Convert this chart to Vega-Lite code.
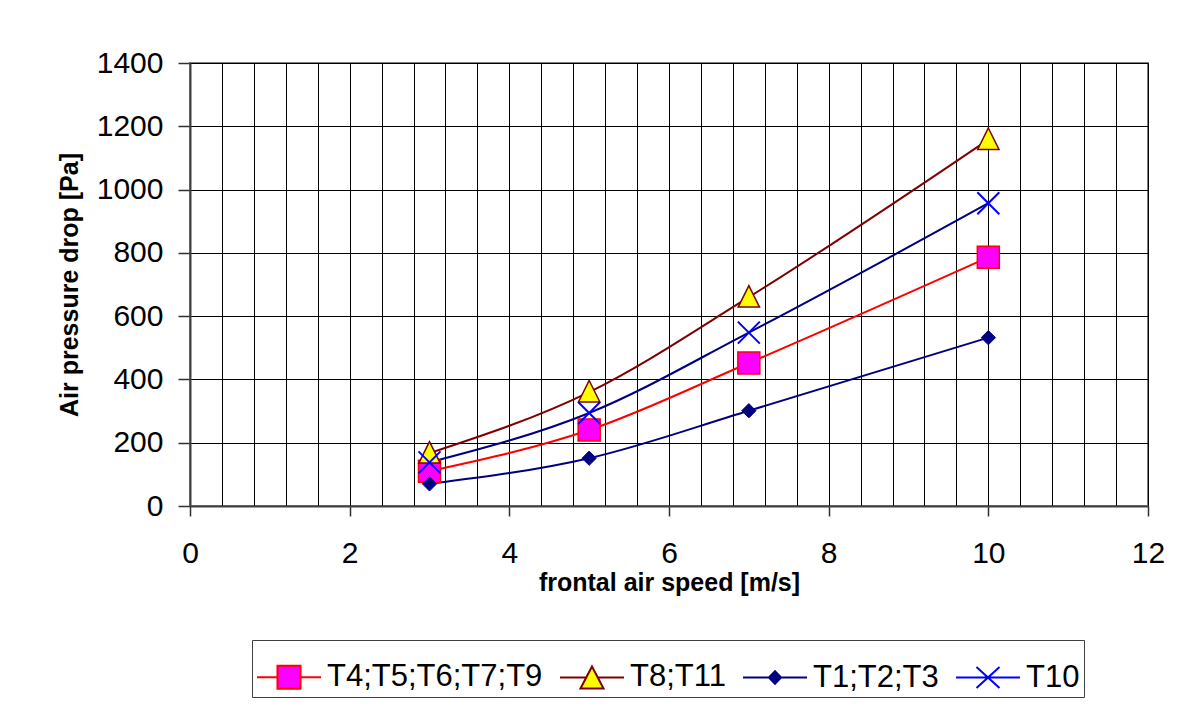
{
  "$schema": "https://vega.github.io/schema/vega-lite/v6.json",
  "width": 958,
  "height": 443,
  "autosize": {"type": "none"},
  "padding": {"left": 190, "top": 63, "right": 37, "bottom": 215},
  "background": "white",
  "config": {
    "font": "Liberation Sans",
    "view": {"stroke": "#808080", "strokeWidth": 2}
  },
  "data": {
    "values": [
      {"series": "T4;T5;T6;T7;T9", "speed": 3, "dp": 110},
      {"series": "T4;T5;T6;T7;T9", "speed": 5, "dp": 240},
      {"series": "T4;T5;T6;T7;T9", "speed": 7, "dp": 452},
      {"series": "T4;T5;T6;T7;T9", "speed": 10, "dp": 786},
      {"series": "T8;T11", "speed": 3, "dp": 167},
      {"series": "T8;T11", "speed": 5, "dp": 360},
      {"series": "T8;T11", "speed": 7, "dp": 660},
      {"series": "T8;T11", "speed": 10, "dp": 1158},
      {"series": "T1;T2;T3", "speed": 3, "dp": 70},
      {"series": "T1;T2;T3", "speed": 5, "dp": 151},
      {"series": "T1;T2;T3", "speed": 7, "dp": 301},
      {"series": "T1;T2;T3", "speed": 10, "dp": 532},
      {"series": "T10", "speed": 3, "dp": 138},
      {"series": "T10", "speed": 5, "dp": 294},
      {"series": "T10", "speed": 7, "dp": 548},
      {"series": "T10", "speed": 10, "dp": 957}
    ]
  },
  "encoding": {
    "x": {
      "field": "speed",
      "type": "quantitative",
      "scale": {"domain": [0, 12], "nice": false, "zero": false},
      "axis": {
        "values": [0, 0.4, 0.8, 1.2, 1.6, 2, 2.4, 2.8, 3.2, 3.6, 4, 4.4, 4.8, 5.2, 5.6, 6, 6.4, 6.8, 7.2, 7.6, 8, 8.4, 8.8, 9.2, 9.6, 10, 10.4, 10.8, 11.2, 11.6, 12],
        "grid": true,
        "gridColor": "#000000",
        "gridWidth": 1,
        "tickSize": 10,
        "tickColor": "#303030",
        "tickWidth": 1.5,
        "tickOpacity": {"condition": {"test": "datum.value % 2 == 0", "value": 1}, "value": 0},
        "labelExpr": "datum.value % 2 == 0 ? format(datum.value, 'd') : ''",
        "labelFontSize": 30,
        "labelPadding": 22,
        "labelColor": "#000000",
        "labelOverlap": false,
        "labelFlush": false,
        "domainColor": "#404040",
        "domainWidth": 2,
        "title": "frontal air speed [m/s]",
        "titleFontSize": 25,
        "titleFontWeight": "bold",
        "titleColor": "#000000",
        "titlePadding": 2
      }
    },
    "y": {
      "field": "dp",
      "type": "quantitative",
      "scale": {"domain": [0, 1400], "nice": false},
      "axis": {
        "values": [0, 200, 400, 600, 800, 1000, 1200, 1400],
        "format": "d",
        "grid": true,
        "gridColor": "#000000",
        "gridWidth": 1,
        "tickSize": 12,
        "tickColor": "#303030",
        "tickWidth": 1.5,
        "labelFontSize": 30,
        "labelPadding": 15,
        "labelColor": "#000000",
        "labelFlush": false,
        "domainColor": "#404040",
        "domainWidth": 2,
        "title": "Air pressure drop [Pa]",
        "titleFontSize": 25,
        "titleFontWeight": "bold",
        "titleColor": "#000000",
        "titlePadding": 14
      }
    }
  },
  "layer": [
    {
      "transform": [{"filter": "datum.series == 'T4;T5;T6;T7;T9'"}],
      "mark": {"type": "line", "interpolate": "monotone", "strokeWidth": 2, "color": "#FF0000"},
      "encoding": {}
    },
    {
      "transform": [{"filter": "datum.series == 'T8;T11'"}],
      "mark": {"type": "line", "interpolate": "monotone", "strokeWidth": 2, "color": "#800000"},
      "encoding": {}
    },
    {
      "transform": [{"filter": "datum.series == 'T1;T2;T3'"}],
      "mark": {"type": "line", "interpolate": "monotone", "strokeWidth": 2, "color": "#000080"},
      "encoding": {}
    },
    {
      "transform": [{"filter": "datum.series == 'T10'"}],
      "mark": {"type": "line", "interpolate": "monotone", "strokeWidth": 2, "color": "#000080"},
      "encoding": {}
    },
    {
      "mark": {"type": "point", "size": 4, "opacity": 1, "strokeWidth": 1},
      "encoding": {
        "shape": {
          "field": "series",
          "type": "nominal",
          "scale": {
            "domain": ["T4;T5;T6;T7;T9", "T8;T11", "T1;T2;T3", "T10"],
            "range": [
              "M-1,0H-0.36M0.36,0H1M-0.36,-0.36H0.36V0.36H-0.36Z",
              "M-1,0H-0.18M0.18,0H1M0,-0.34L0.36,0.35H-0.36Z",
              "M-1,0H1M0,-0.2L0.19,0L0,0.2L-0.19,0Z",
              "M-1,0H1M-0.36,-0.33L0.36,0.33M-0.36,0.33L0.36,-0.33"
            ]
          },
          "legend": {"orient": "none", "legendX": 62, "legendY": 577, "direction": "horizontal", "title": null, "symbolSize": 4096, "symbolStrokeWidth": 2, "labelFontSize": 31, "labelColor": "#000000", "labelOffset": 5, "labelLimit": 500, "columnPadding": 13, "padding": 4, "strokeColor": "#404040", "fillColor": "#FFFFFF"}
        },
        "fill": {
          "field": "series",
          "type": "nominal",
          "scale": {"domain": ["T4;T5;T6;T7;T9", "T8;T11", "T1;T2;T3", "T10"], "range": ["#FF00FF", "#FFFF00", "#000080", "#0000FF"]},
          "legend": null
        },
        "stroke": {
          "field": "series",
          "type": "nominal",
          "scale": {"domain": ["T4;T5;T6;T7;T9", "T8;T11", "T1;T2;T3", "T10"], "range": ["#FF0000", "#800000", "#000080", "#0000FF"]},
          "legend": null
        }
      }
    },
    {
      "transform": [{"filter": "datum.series == 'T4;T5;T6;T7;T9'"}],
      "mark": {"type": "point", "shape": "M-1,-1H1V1H-1Z", "size": 484, "filled": true, "fill": "#FF00FF", "stroke": "#FF0000", "strokeWidth": 1.5, "opacity": 1}
    },
    {
      "transform": [{"filter": "datum.series == 'T8;T11'"}],
      "mark": {"type": "point", "shape": "M0,-1.05L0.97,0.9H-0.97Z", "size": 484, "filled": true, "fill": "#FFFF00", "stroke": "#800000", "strokeWidth": 1.5, "opacity": 1}
    },
    {
      "transform": [{"filter": "datum.series == 'T1;T2;T3'"}],
      "mark": {"type": "point", "shape": "M0,-0.65L0.65,0L0,0.65L-0.65,0Z", "size": 484, "filled": true, "fill": "#000080", "stroke": "#000080", "strokeWidth": 1, "opacity": 1}
    },
    {
      "transform": [{"filter": "datum.series == 'T10'"}],
      "mark": {"type": "point", "shape": "M-1,-1L1,1M-1,1L1,-1", "size": 484, "filled": false, "fill": "transparent", "stroke": "#0000FF", "strokeWidth": 2, "opacity": 1}
    }
  ]
}
